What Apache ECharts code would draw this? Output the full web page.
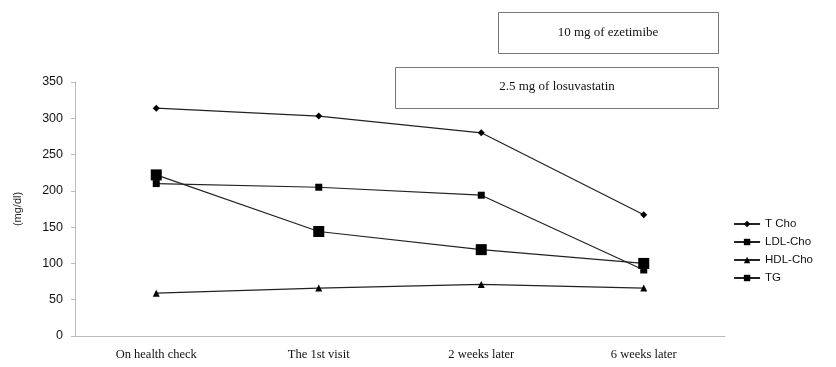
<!DOCTYPE html>
<html><head><meta charset="utf-8">
<script src="https://cdn.jsdelivr.net/npm/echarts@6/dist/echarts.min.js"></script>
<style>html,body{margin:0;padding:0;background:#fff}#c{width:836px;height:367px}</style>
</head><body><div id="c"></div>
<script>
const categories = ["On health check", "The 1st visit", "2 weeks later", "6 weeks later"];
const tCho = [314, 303, 280, 167];
const ldlCho = [210, 205, 194, 91];
const hdlCho = [59, 66, 71, 66];
const tg = [222, 144, 119, 100];
const yTicks = [0, 50, 100, 150, 200, 250, 300, 350];
const boxLabels = ["10 mg of ezetimibe", "2.5 mg of losuvastatin"];

const chart = echarts.init(document.getElementById('c'));
const serif = '"Liberation Serif", "DejaVu Serif", serif';
const sans = '"Liberation Sans", "DejaVu Sans", sans-serif';
function ser(name, data, symbol, size) {
  return {name, type:'line', data, symbol, symbolSize:size, showAllSymbol:true,
    lineStyle:{color:'#222', width:1.2}, itemStyle:{color:'#000'}, emphasis:{disabled:true}};
}
chart.setOption({
  animation:false,
  grid:{left:75, right:111, top:82, bottom:31},
  xAxis:{type:'category', data:categories, boundaryGap:true,
    axisLine:{lineStyle:{color:'#bbb'}}, axisTick:{lineStyle:{color:'#bbb'}, length:4},
    axisLabel:{color:'#111', fontFamily:serif, fontSize:12.5, margin:12}},
  yAxis:{type:'value', min:yTicks[0], max:yTicks[yTicks.length-1], interval:50,
    name:'(mg/dl)', nameLocation:'middle', nameGap:52, nameRotate:90,
    nameTextStyle:{color:'#222', fontFamily:sans, fontSize:11},
    axisLine:{show:true, lineStyle:{color:'#bbb'}}, axisTick:{show:true, length:4, lineStyle:{color:'#bbb'}},
    splitLine:{show:false},
    axisLabel:{color:'#111', fontFamily:sans, fontSize:12.5, margin:12}},
  legend:{orient:'vertical', right:18, top:213, itemWidth:26, itemHeight:8, itemGap:6,
    textStyle:{color:'#111', fontFamily:sans, fontSize:11.5},
    data:['T Cho','LDL-Cho','HDL-Cho','TG']},
  graphic:[
    {type:'rect', shape:{x:498.5, y:12.5, width:220, height:41}, style:{fill:'#fff', stroke:'#777', lineWidth:1}},
    {type:'text', x:608, y:33, style:{text:boxLabels[0], font:'13px '+serif, fill:'#111', textAlign:'center', textVerticalAlign:'middle'}},
    {type:'rect', shape:{x:395.5, y:67.5, width:323, height:41}, style:{fill:'#fff', stroke:'#777', lineWidth:1}},
    {type:'text', x:557, y:87, style:{text:boxLabels[1], font:'13px '+serif, fill:'#111', textAlign:'center', textVerticalAlign:'middle'}}
  ],
  series:[
    ser('T Cho', tCho, 'diamond', 7),
    ser('LDL-Cho', ldlCho, 'rect', 7),
    ser('HDL-Cho', hdlCho, 'triangle', 7),
    ser('TG', tg, 'rect', 11)
  ]
});
</script></body></html>
